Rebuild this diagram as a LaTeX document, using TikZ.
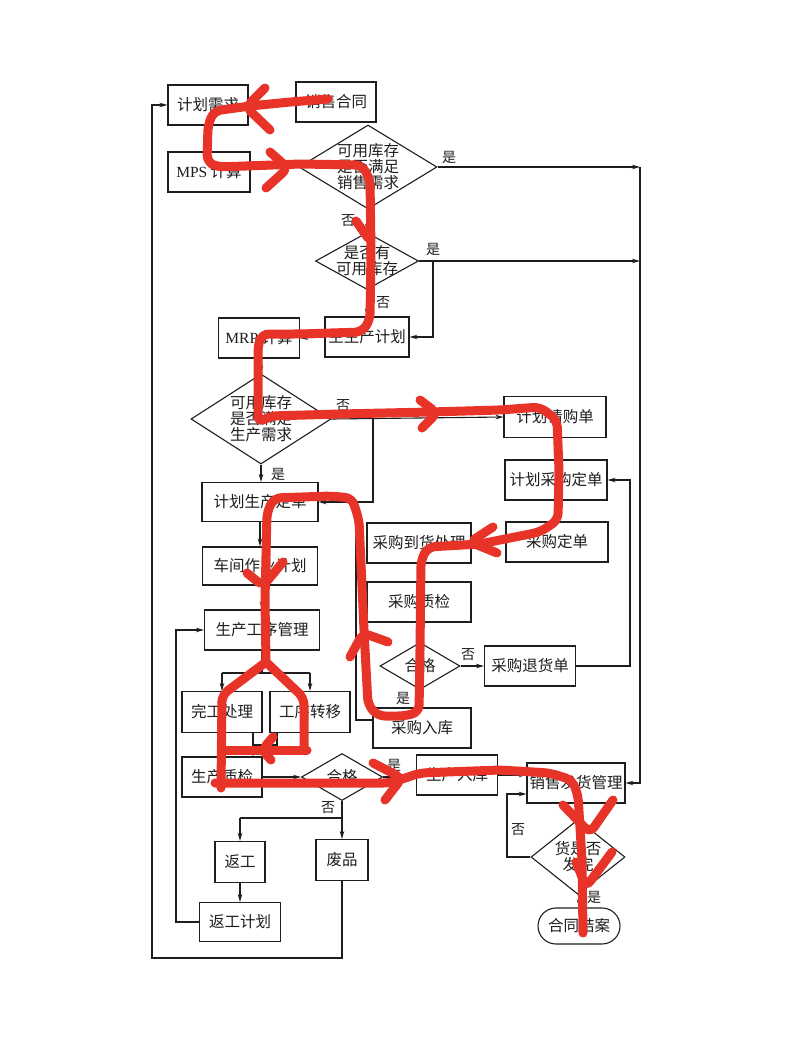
\documentclass[tikz,border=0pt]{standalone}
\usepackage{fontspec}
\newfontfamily\cjk{Noto Sans CJK SC}
\newfontfamily\lat{Liberation Serif}
\usetikzlibrary{shapes.geometric,arrows.meta}
\definecolor{ink}{RGB}{30,30,30}
\definecolor{penred}{RGB}{232,52,40}
\begin{document}
\begin{tikzpicture}[x=1pt,y=-1pt,
  pbox/.style={draw=ink, line width=1.1pt, inner sep=0pt, minimum height=40pt, text=ink, font=\cjk\fontsize{15.5}{16}\selectfont},
  dia/.style={draw=ink, diamond, line width=1.1pt, inner sep=0pt},
  dtext/.style={font=\cjk\fontsize{15.5}{16}\selectfont, text=ink, align=center, inner sep=0pt},
  lab/.style={font=\cjk\fontsize{14}{14}\selectfont, text=ink, inner sep=0pt},
  ln/.style={draw=ink, line width=1.1pt},
  arr/.style={draw=ink, line width=1.1pt, -{Stealth[length=8pt,width=4.5pt]}},
  pen/.style={draw=penred, line width=9pt, line cap=round, line join=round, rounded corners=7pt}]
\fill[white] (0,0) rectangle (792,1047);
\useasboundingbox (0,0) rectangle (792,1047);

% ---------- boxes ----------
\node[pbox, minimum width=80pt] (xq) at (208,105) {计划需求};
\node[pbox, minimum width=80pt] (xs) at (336,102) {销售合同};
\node[pbox, minimum width=82pt] (mps) at (209,172) {{\lat MPS} 计算};
\node[dia, minimum width=138pt, minimum height=84pt] (d1) at (368,167) {};
\node[dtext] (d1t) at (d1) {可用库存\\是否满足\\销售需求};
\node[dia, minimum width=103pt, minimum height=57pt] (d2) at (367,261) {};
\node[dtext] (d2t) at (d2) {是否有\\可用库存};
\node[pbox, minimum width=84pt] (zsc) at (367,337) {主生产计划};
\node[pbox, minimum width=81pt] (mrp) at (259,338) {{\lat MRP} 计算};
\node[dia, minimum width=140pt, minimum height=90pt] (d3) at (261,419) {};
\node[dtext] (d3t) at (d3) {可用库存\\是否满足\\生产需求};
\node[pbox, minimum width=116pt, minimum height=39pt] (jhsc) at (260,502) {计划生产定单};
\node[pbox, minimum width=115pt, minimum height=38pt] (cj) at (260,566) {车间作业计划};
\node[pbox, minimum width=115pt] (gx) at (262,630) {生产工序管理};
\node[pbox, minimum width=80pt, minimum height=41pt] (wg) at (222,712) {完工处理};
\node[pbox, minimum width=80pt, minimum height=41pt] (zy) at (310,712) {工序转移};
\node[pbox, minimum width=80pt] (zj) at (222,777) {生产质检};
\node[dia, minimum width=81pt, minimum height=47pt] (d4) at (342,777) {};
\node[dtext] (d4t) at (d4) {合格};
\node[pbox, minimum width=81pt] (rk) at (457,775) {生产入库};
\node[pbox, minimum width=50pt, minimum height=41pt] (fg) at (240,862) {返工};
\node[pbox, minimum width=52pt, minimum height=41pt] (fp) at (342,860) {废品};
\node[pbox, minimum width=81pt, minimum height=39pt] (fgjh) at (240,922) {返工计划};

\node[pbox, minimum width=102pt, minimum height=41pt] (qg) at (555,417) {计划请购单};
\node[pbox, minimum width=102pt] (jhcg) at (556,480) {计划采购定单};
\node[pbox, minimum width=102pt] (cg) at (557,542) {采购定单};
\node[pbox, minimum width=104pt] (dh) at (419,543) {采购到货处理};
\node[pbox, minimum width=104pt] (cgzj) at (419,602) {采购质检};
\node[dia, minimum width=80pt, minimum height=47pt] (d5) at (420,666) {};
\node[dtext] (d5t) at (d5) {合格};
\node[pbox, minimum width=91pt] (th) at (530,666) {采购退货单};
\node[pbox, minimum width=98pt] (cgrk) at (422,728) {采购入库};

\node[pbox, minimum width=98pt] (xsfh) at (576,783) {销售发货管理};
\node[dia, minimum width=94pt, minimum height=75pt] (d6) at (578,857) {};
\node[dtext] (d6t) at (d6) {货是否\\发完};
\node[pbox, rounded corners=18pt, minimum width=82pt, minimum height=36pt] (ht) at (579,926) {合同结案};

% ---------- labels ----------
\node[lab] (l1) at (449,157) {是};
\node[lab] (l2) at (348,221) {否};
\node[lab] (l3) at (433,249) {是};
\node[lab] (l4) at (383,303) {否};
\node[lab] (l5) at (343,406) {否};
\node[lab] (l6) at (278,474) {是};
\node[lab] (l7) at (394,765) {是};
\node[lab] (l8) at (328,808) {否};
\node[lab] (l9) at (468,655) {否};
\node[lab] (l10) at (403,698) {是};
\node[lab] (l11) at (518,830) {否};
\node[lab] (l12) at (594,897) {是};

% ---------- coordinates ----------
\coordinate (bus1) at (640,167);
\coordinate (bus2) at (640,261);
\coordinate (br2) at (433,261);
\coordinate (br3) at (373,419);
\coordinate (sp) at (262,673);
\coordinate (sp4) at (342,818);
\coordinate (wgo) at (253,733);
\coordinate (wgi) at (253,757);
\coordinate (zyo) at (277,733);
\coordinate (zym) at (277,745);
\coordinate (wgm) at (253,745);
\coordinate (rw1) at (176,922);
\coordinate (rw2) at (176,630);
\coordinate (lp1) at (342,958);
\coordinate (lp2) at (152,958);
\coordinate (lp3) at (152,105);
\coordinate (th1) at (630,666);
\coordinate (th2) at (630,480);
\coordinate (rk1) at (356,720);
\coordinate (rk2) at (356,502);
\coordinate (f1) at (507,857);
\coordinate (f2) at (507,794);

% ---------- connectors ----------
\draw[arr] (xs.west) -- (xs.west -| xq.east);
\draw[arr] (xq.south) -- (mps.north);
\draw[arr] (mps.east |- d1.west) -- (d1.west);
\draw[arr] (d1.east) -- (bus1);
\draw[arr] (d2.east) -- (bus2);
\draw[arr] (bus1) -- (bus1 |- xsfh.east) -- (xsfh.east);
\draw[arr] (d1.south) -- (d2.north);
\draw[arr] (br2) -- (br2 |- zsc.east) -- (zsc.east);
\draw[arr] (d2.south) -- (zsc.north);
\draw[arr] (zsc.west) -- (mrp.east);
\draw[arr] (d3.north |- mrp.south) -- (d3.north);
\draw[arr] (d3.east) -- (qg.west);
\draw[arr] (br3) -- (br3 |- jhsc.east) -- (jhsc.east);
\draw[arr] (d3.south) -- (d3.south |- jhsc.north);
\draw[arr] (jhsc.south) -- (cj.north);
\draw[arr] (cj.south -| gx.north) -- (gx.north);
\draw[ln] (gx.south) -- (sp);
\draw[ln] (wg.north |- sp) -- (zy.north |- sp);
\draw[arr] (wg.north |- sp) -- (wg.north);
\draw[arr] (zy.north |- sp) -- (zy.north);
\draw[arr] (wgo) -- (wgi);
\draw[ln] (zyo) -- (zym) -- (wgm);
\draw[arr] (zj.east) -- (d4.west);
\draw[arr] (d4.east) -- (d4.east -| rk.west);
\draw[ln] (d4.south) -- (sp4) -- (sp4 -| fg.north);
\draw[arr] (sp4 -| fg.north) -- (fg.north);
\draw[arr] (sp4) -- (fp.north);
\draw[arr] (fg.south) -- (fgjh.north);
\draw[arr] (fgjh.west) -- (rw1) -- (rw2) -- (gx.west);
\draw[arr] (fp.south) -- (lp1) -- (lp2) -- (lp3) -- (xq.west);

\draw[arr] (qg.south -| jhcg.north) -- (jhcg.north);
\draw[arr] (jhcg.south -| cg.north) -- (cg.north);
\draw[arr] (cg.west) -- (dh.east);
\draw[arr] (dh.south) -- (cgzj.north);
\draw[arr] (cgzj.south -| d5.north) -- (d5.north);
\draw[arr] (d5.east) -- (th.west);
\draw[arr] (th.east) -- (th1) -- (th2) -- (jhcg.east);
\draw[arr] (d5.south) -- (d5.south |- cgrk.north);
\draw[ln] (rk1 -| cgrk.west) -- (rk1) -- (rk2);

\draw[arr] (rk.east) -- (rk.east -| xsfh.west);
\draw[arr] (xsfh.south -| d6.north) -- (d6.north);
\draw[arr] (d6.west) -- (f1) -- (f2) -- (f2 -| xsfh.west);
\draw[arr] (d6.south) -- (d6.south -| ht.north) -- (ht.north);

% ---------- red hand-drawn path ----------
\draw[pen] (328,99) -- (290,102) -- (250,106) -- (214,111) -- (208,125) -- (207,162) -- (218,167) -- (300,164) -- (362,165) -- (370,180) -- (371,250) -- (370,320) -- (362,332) -- (300,334) -- (262,334) -- (258,345) -- (258,423) -- (270,416) -- (340,414) -- (430,412) -- (500,410) -- (540,407) -- (557,420) -- (559,470) -- (558,520) -- (540,532) -- (480,544) -- (428,547) -- (421,560) -- (420,650) -- (419,712) -- (405,716) -- (378,716) -- (368,705) -- (364,630) -- (359,520) -- (352,498) -- (330,496) -- (274,498) -- (267,512) -- (265,600) -- (266,662);
\draw[pen] (266,662) -- (222,695) -- (221,788);
\draw[pen] (266,662) -- (304,698) -- (304,750);
\draw[pen] (307,750) -- (224,750);
\draw[pen] (215,783) -- (300,783) -- (390,783) -- (420,773) -- (500,770) -- (550,773) -- (572,780) -- (578,795) -- (582,860) -- (583,933);
\draw[pen] (265,88) -- (246,107) -- (270,130);
\draw[pen] (270,152) -- (288,168) -- (266,188);
\draw[pen] (420,400) -- (437,413) -- (422,428);
\draw[pen] (493,527) -- (470,542) -- (497,553);
\draw[pen] (350,657) -- (363,633) -- (388,642);
\draw[pen] (247,573) -- (263,586) -- (283,562);
\draw[pen] (273,737) -- (262,750) -- (271,760);
\draw[pen] (373,763) -- (402,778) -- (385,800);
\draw[pen] (563,805) -- (590,833) -- (613,800);
\draw[pen] (576,862) -- (586,887) -- (612,852);
\draw[pen] (356,221) -- (368,238);
\end{tikzpicture}
\end{document}
